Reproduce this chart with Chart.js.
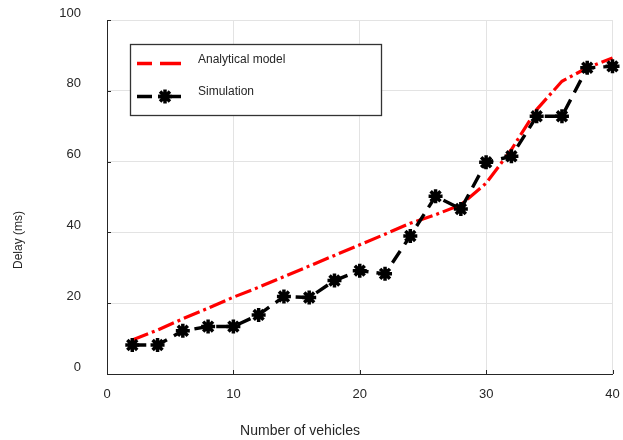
<!DOCTYPE html>
<html>
<head>
<meta charset="utf-8">
<script src="https://cdn.jsdelivr.net/npm/chart.js@4/dist/chart.umd.min.js"></script>
<style>
    body { margin: 0; background: #ffffff; }
    #wrap { width: 623px; height: 440px; }
</style>
</head>
<body>
<div id="wrap"><canvas id="myChart" width="623" height="440"></canvas></div>
<script>
const vehicles = [2, 4, 6, 8, 10, 12, 14, 16, 18, 20, 22, 24, 26, 28, 30, 32, 34, 36, 38, 40];
const analytical = [9.6, 12.4, 15.6, 18.6, 21.7, 24.5, 27.5, 30.5, 33.5, 36.5, 39.5, 42.6, 45.0, 47.8, 53.9, 63.4, 74.7, 82.7, 86.5, 89.3];
const simulation = [8.2, 8.2, 12.2, 13.4, 13.4, 16.7, 21.9, 21.6, 26.4, 29.2, 28.3, 39.0, 50.2, 46.6, 59.8, 61.5, 72.8, 72.8, 86.5, 86.9];
const seriesNames = ["Analytical model", "Simulation"];
const xTitle = "Number of vehicles";
const yTitle = "Delay (ms)";

const textColor = "#262626";
const fontFamily = "'Liberation Sans', Arial, sans-serif";

function toPoints(ys) {
    return vehicles.map((x, i) => ({ x: x, y: ys[i] }));
}

// inward tick marks, axis titles and the boxed legend
const extrasPlugin = {
    id: "extras",
    afterDraw(chart) {
        const ctx = chart.ctx;
        const area = chart.chartArea;
        const xs = chart.scales.x;
        const ys = chart.scales.y;

        ctx.save();
        ctx.strokeStyle = textColor;
        ctx.lineWidth = 1;
        ctx.beginPath();
        xs.ticks.forEach(t => {
            const px = Math.round(xs.getPixelForValue(t.value)) + 0.5;
            ctx.moveTo(px, area.bottom);
            ctx.lineTo(px, area.bottom - 4);
        });
        ys.ticks.forEach(t => {
            const py = Math.round(ys.getPixelForValue(t.value)) + 0.5;
            ctx.moveTo(area.left, py);
            ctx.lineTo(area.left + 4, py);
        });
        ctx.stroke();

        // axis titles
        ctx.fillStyle = textColor;
        ctx.textAlign = "center";
        ctx.textBaseline = "middle";
        ctx.font = "14px " + fontFamily;
        ctx.fillText(xTitle, 300, 431);
        ctx.translate(19, 240);
        ctx.rotate(-Math.PI / 2);
        ctx.font = "12px " + fontFamily;
        ctx.fillText(yTitle, 0, 0);
        ctx.restore();

        // legend
        ctx.save();
        ctx.fillStyle = "#ffffff";
        ctx.fillRect(130, 44, 252, 72);
        ctx.strokeStyle = "#333333";
        ctx.lineWidth = 1.3;
        ctx.strokeRect(130.5, 44.5, 251, 71);

        ctx.lineWidth = 3.5;
        ctx.strokeStyle = "#ff0000";
        ctx.beginPath();
        ctx.moveTo(137, 63.5);
        ctx.lineTo(152, 63.5);
        ctx.moveTo(160, 63.5);
        ctx.lineTo(181, 63.5);
        ctx.stroke();

        ctx.strokeStyle = "#000000";
        ctx.beginPath();
        ctx.moveTo(137, 96.5);
        ctx.lineTo(152, 96.5);
        ctx.moveTo(158, 96.5);
        ctx.lineTo(181, 96.5);
        ctx.stroke();
        ctx.lineWidth = 3.5;
        Chart.helpers.drawPoint(ctx, { pointStyle: "star", radius: 7, borderWidth: 3.5, rotation: 0 }, 165, 96.5);

        ctx.fillStyle = textColor;
        ctx.font = "12px " + fontFamily;
        ctx.textAlign = "left";
        ctx.textBaseline = "middle";
        ctx.fillText(seriesNames[0], 198, 60);
        ctx.fillText(seriesNames[1], 198, 92);
        ctx.restore();
    }
};

const ctx = document.getElementById("myChart").getContext("2d");
const chartInstance = new Chart(ctx, {
    type: "line",
    data: {
        datasets: [
            {
                label: seriesNames[1],
                data: toPoints(simulation),
                borderColor: "#000000",
                backgroundColor: "#000000",
                borderWidth: 3.4,
                borderDash: [14, 8],
                pointStyle: "star",
                pointRadius: 7,
                pointBorderWidth: 3.5,
                pointBorderColor: "#000000",
                pointBackgroundColor: "#000000",
                tension: 0,
                fill: false,
                clip: false
            },
            {
                label: seriesNames[0],
                data: toPoints(analytical),
                borderColor: "#ff0000",
                backgroundColor: "#ff0000",
                borderWidth: 3.2,
                borderDash: [17, 4, 3, 4],
                pointRadius: 0,
                tension: 0,
                fill: false,
                clip: false
            }
        ]
    },
    options: {
        responsive: false,
        animation: false,
        devicePixelRatio: 1,
        layout: {
            padding: { left: 0, top: 20, right: 7, bottom: 0 }
        },
        plugins: {
            legend: { display: false },
            tooltip: { enabled: false }
        },
        scales: {
            x: {
                type: "linear",
                min: 0,
                max: 40,
                afterFit: scale => {
                    scale.height = 66;
                    scale.paddingLeft = 0;
                    scale.paddingRight = 0;
                },
                grid: { color: "#e3e3e3", drawTicks: false },
                border: { color: textColor, width: 1 },
                ticks: {
                    stepSize: 10,
                    padding: 13,
                    color: textColor,
                    font: { family: fontFamily, size: 13 },
                    maxRotation: 0
                }
            },
            y: {
                min: 0,
                max: 100,
                afterFit: scale => {
                    scale.width = 107;
                    scale.paddingTop = 0;
                    scale.paddingBottom = 0;
                },
                grid: { color: "#e3e3e3", drawTicks: false },
                border: { color: textColor, width: 1 },
                ticks: {
                    stepSize: 20,
                    padding: 26,
                    labelOffset: -7,
                    color: textColor,
                    font: { family: fontFamily, size: 13 }
                }
            }
        }
    },
    plugins: [extrasPlugin]
});
</script>
</body>
</html>
